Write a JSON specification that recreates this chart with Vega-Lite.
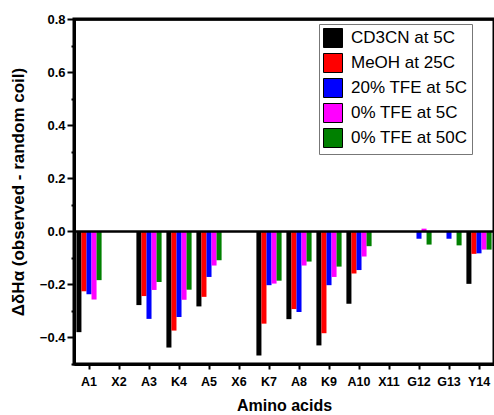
{
  "$schema": "https://vega.github.io/schema/vega-lite/v6.json",
  "width": 420,
  "height": 345,
  "autosize": {"type": "none"},
  "padding": {"left": 74, "top": 19, "right": 0, "bottom": 51},
  "config": {
    "view": {"stroke": "black", "strokeWidth": 3}
  },
  "data": {
    "values": [
      {"aa": "A1", "cond": "CD3CN at 5C", "v": -0.38},
      {"aa": "A1", "cond": "MeOH at 25C", "v": -0.226},
      {"aa": "A1", "cond": "20% TFE at 5C", "v": -0.237},
      {"aa": "A1", "cond": "0% TFE at 5C", "v": -0.257},
      {"aa": "A1", "cond": "0% TFE at 50C", "v": -0.184},
      {"aa": "A3", "cond": "CD3CN at 5C", "v": -0.278},
      {"aa": "A3", "cond": "MeOH at 25C", "v": -0.244},
      {"aa": "A3", "cond": "20% TFE at 5C", "v": -0.33},
      {"aa": "A3", "cond": "0% TFE at 5C", "v": -0.221},
      {"aa": "A3", "cond": "0% TFE at 50C", "v": -0.191},
      {"aa": "K4", "cond": "CD3CN at 5C", "v": -0.438},
      {"aa": "K4", "cond": "MeOH at 25C", "v": -0.374},
      {"aa": "K4", "cond": "20% TFE at 5C", "v": -0.323},
      {"aa": "K4", "cond": "0% TFE at 5C", "v": -0.258},
      {"aa": "K4", "cond": "0% TFE at 50C", "v": -0.22},
      {"aa": "A5", "cond": "CD3CN at 5C", "v": -0.283},
      {"aa": "A5", "cond": "MeOH at 25C", "v": -0.247},
      {"aa": "A5", "cond": "20% TFE at 5C", "v": -0.172},
      {"aa": "A5", "cond": "0% TFE at 5C", "v": -0.129},
      {"aa": "A5", "cond": "0% TFE at 50C", "v": -0.109},
      {"aa": "K7", "cond": "CD3CN at 5C", "v": -0.468},
      {"aa": "K7", "cond": "MeOH at 25C", "v": -0.348},
      {"aa": "K7", "cond": "20% TFE at 5C", "v": -0.203},
      {"aa": "K7", "cond": "0% TFE at 5C", "v": -0.197},
      {"aa": "K7", "cond": "0% TFE at 50C", "v": -0.186},
      {"aa": "A8", "cond": "CD3CN at 5C", "v": -0.331},
      {"aa": "A8", "cond": "MeOH at 25C", "v": -0.293},
      {"aa": "A8", "cond": "20% TFE at 5C", "v": -0.304},
      {"aa": "A8", "cond": "0% TFE at 5C", "v": -0.129},
      {"aa": "A8", "cond": "0% TFE at 50C", "v": -0.114},
      {"aa": "K9", "cond": "CD3CN at 5C", "v": -0.43},
      {"aa": "K9", "cond": "MeOH at 25C", "v": -0.384},
      {"aa": "K9", "cond": "20% TFE at 5C", "v": -0.203},
      {"aa": "K9", "cond": "0% TFE at 5C", "v": -0.172},
      {"aa": "K9", "cond": "0% TFE at 50C", "v": -0.133},
      {"aa": "A10", "cond": "CD3CN at 5C", "v": -0.273},
      {"aa": "A10", "cond": "MeOH at 25C", "v": -0.159},
      {"aa": "A10", "cond": "20% TFE at 5C", "v": -0.146},
      {"aa": "A10", "cond": "0% TFE at 5C", "v": -0.095},
      {"aa": "A10", "cond": "0% TFE at 50C", "v": -0.056},
      {"aa": "G12", "cond": "20% TFE at 5C", "v": -0.028},
      {"aa": "G12", "cond": "0% TFE at 5C", "v": 0.01},
      {"aa": "G12", "cond": "0% TFE at 50C", "v": -0.05},
      {"aa": "G13", "cond": "20% TFE at 5C", "v": -0.028},
      {"aa": "G13", "cond": "0% TFE at 50C", "v": -0.053},
      {"aa": "Y14", "cond": "CD3CN at 5C", "v": -0.198},
      {"aa": "Y14", "cond": "MeOH at 25C", "v": -0.085},
      {"aa": "Y14", "cond": "20% TFE at 5C", "v": -0.083},
      {"aa": "Y14", "cond": "0% TFE at 5C", "v": -0.069},
      {"aa": "Y14", "cond": "0% TFE at 50C", "v": -0.069}
    ]
  },
  "mark": {"type": "bar"},
  "encoding": {
    "x": {
      "field": "aa", "type": "nominal",
      "scale": {"domain": ["A1","X2","A3","K4","A5","X6","K7","A8","K9","A10","X11","G12","G13","Y14"], "paddingInner": 0.16, "paddingOuter": 0.08},
      "axis": {"title": "Amino acids", "zindex": 1, "labelAngle": 0, "labelFont": "Liberation Sans", "titleFont": "Liberation Sans", "labelFontSize": 12.5, "labelFontWeight": "bold", "labelColor": "black", "titleFontSize": 16, "titleFontWeight": "bold", "titleColor": "black", "tickSize": 5, "tickWidth": 2, "tickColor": "black", "domainColor": "black", "domainWidth": 3, "labelPadding": 6, "titlePadding": 10, "grid": false}
    },
    "xOffset": {"field": "cond", "type": "nominal", "sort": ["CD3CN at 5C","MeOH at 25C","20% TFE at 5C","0% TFE at 5C","0% TFE at 50C"]},
    "y": {
      "field": "v", "type": "quantitative",
      "scale": {"domain": [-0.5, 0.8], "nice": false, "zero": false},
      "axis": {
        "title": "ΔδHα (observed - random coil)",
        "zindex": 1,
        "values": [-0.5, -0.4, -0.3, -0.2, -0.1, 0, 0.1, 0.2, 0.3, 0.4, 0.5, 0.6, 0.7, 0.8],
        "format": ".1f",
        "labelExpr": "(datum.value < -0.45 || abs(round(datum.value * 10)) % 2 == 1) ? '' : datum.label",
        "tickDash": {"condition": {"test": "abs(round(datum.value * 10)) % 2 == 1", "value": [3, 20]}, "value": []},
        "tickSize": 7, "tickWidth": 2, "tickColor": "black", "domainColor": "black", "domainWidth": 3,
        "grid": true, "gridColor": "black", "gridWidth": 2.5,
        "gridOpacity": {"condition": {"test": "datum.value == 0 || datum.value == 0.8 || datum.value == -0.5", "value": 1}, "value": 0},
        "labelFont": "Liberation Sans", "titleFont": "Liberation Sans",
        "labelFontSize": 13, "labelFontWeight": "bold", "labelColor": "black", "titleFontSize": 17, "titleFontWeight": "bold", "titleColor": "black", "labelPadding": 2, "titlePadding": 12
      }
    },
    "color": {
      "field": "cond", "type": "nominal",
      "sort": ["CD3CN at 5C","MeOH at 25C","20% TFE at 5C","0% TFE at 5C","0% TFE at 50C"],
      "scale": {"domain": ["CD3CN at 5C","MeOH at 25C","20% TFE at 5C","0% TFE at 5C","0% TFE at 50C"], "range": ["#000000","#ff0000","#0000ff","#ff00ff","#008000"]},
      "legend": {
        "title": null, "orient": "none", "legendX": 245, "legendY": 5,
        "symbolType": "square", "symbolSize": 361, "symbolStrokeColor": "black", "symbolStrokeWidth": 1, "symbolOpacity": 1,
        "labelFontSize": 17, "labelFont": "Liberation Sans", "labelColor": "black", "labelOffset": 8,
        "strokeColor": "#777777", "padding": 4, "rowPadding": 1
      }
    }
  }
}
